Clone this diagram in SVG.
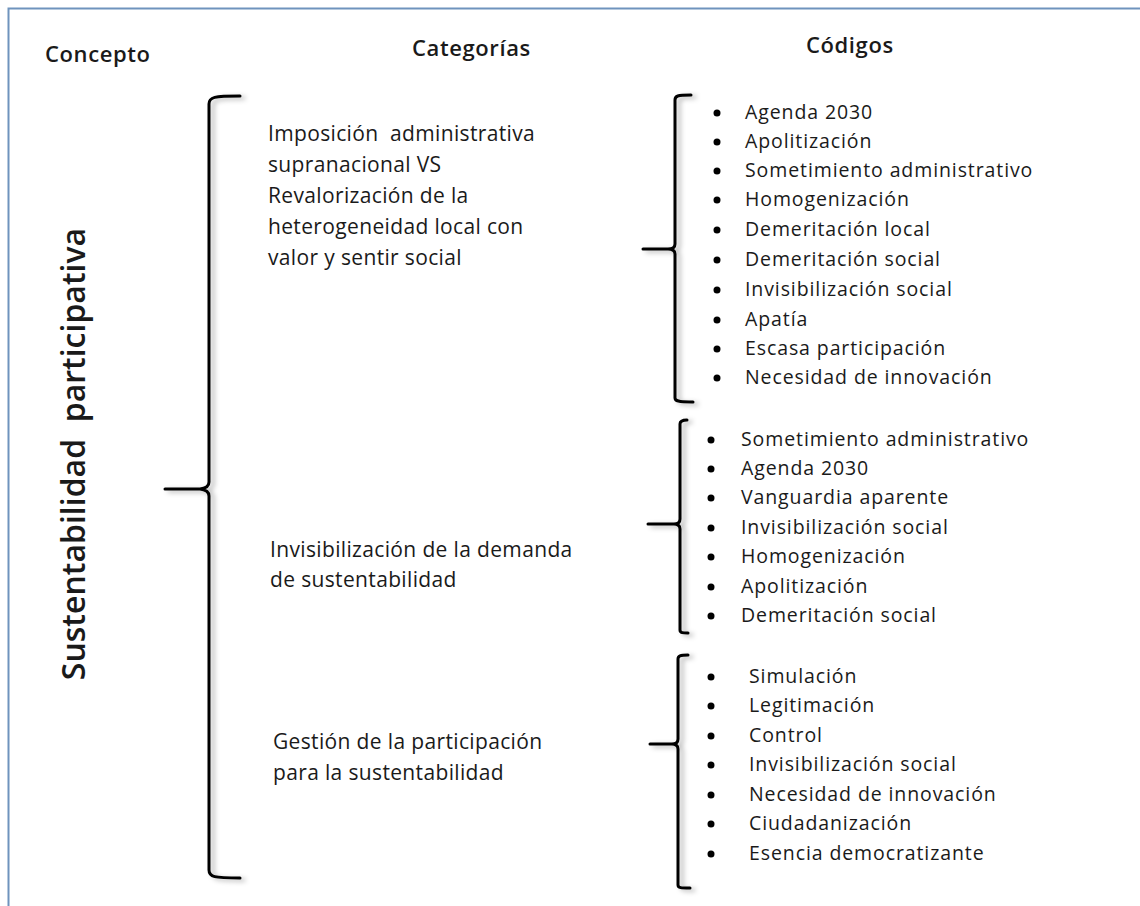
<svg xmlns="http://www.w3.org/2000/svg" width="1140" height="906" viewBox="0 0 1140 906">
<defs>
<filter id="sh" x="-50%" y="-5%" width="200%" height="110%">
<feDropShadow dx="4" dy="2" stdDeviation="2.5" flood-color="#000" flood-opacity="0.3"/>
</filter>
<style>
.t{font-family:"Open Sans","Noto Sans",sans-serif;fill:#1a1a1a}
.h{font-size:22px;font-weight:600;letter-spacing:0.6px}
.cat{font-size:21px;letter-spacing:0.35px}
.code{font-size:19.5px;letter-spacing:0.9px}
.br{fill:none;stroke:#000;stroke-width:3;stroke-linecap:round;stroke-linejoin:round;filter:url(#sh)}
.bul{fill:#000}
</style>
</defs>
<rect width="1140" height="906" fill="#fff"/>
<path d="M8.5,906 L8.5,8.5 L1140,8.5" fill="none" stroke="#6f93bd" stroke-width="2"/>

<g id="headers">
<text class="t h" x="45" y="62">Concepto</text>
<text class="t h" x="412" y="56">Categorías</text>
<text class="t h" x="806" y="53">Códigos</text>
</g>

<g id="concepto">
<text class="t" font-size="32" font-weight="600" xml:space="preserve" transform="translate(85,454) rotate(-90)" text-anchor="middle">Sustentabilidad  participativa</text>
</g>

<g id="connectors">
<path class="br" d="M240,96 C214,96 209,97 209,104 L209,482 Q209,488 200,489 L165,489 M200,489 Q209,490 209,496 L209,870 C209,877 214,878 240,878"/>
<path class="br" d="M691,95 C677,95 675,96 675,100 L675,244 Q675,249 668,249 L643,249 M668,249 Q675,249 675,254 L675,398 C675,401 678,402 693,402"/>
<path class="br" d="M687,420 C682,420 680,421 680,424 L680,519 Q680,524 674,524 L648,524 M674,524 Q680,524 680,529 L680,630 C680,633 683,633 688,633"/>
<path class="br" d="M688,655 C680,655 678,656 678,659 L678,739 Q678,744 672,744 L650,744 M672,744 Q678,744 678,749 L678,885 C678,888 681,888 690,888"/>
</g>

<g id="cat1">
<text class="t cat" x="268" y="141" xml:space="preserve">Imposición  administrativa</text>
<text class="t cat" x="268" y="172">supranacional VS</text>
<text class="t cat" x="268" y="203">Revalorización de la</text>
<text class="t cat" x="268" y="234">heterogeneidad local con</text>
<text class="t cat" x="268" y="265">valor y sentir social</text>
</g>
<g id="cat2">
<text class="t cat" x="270" y="557">Invisibilización de la demanda</text>
<text class="t cat" x="270" y="587">de sustentabilidad</text>
</g>
<g id="cat3">
<text class="t cat" x="273" y="749">Gestión de la participación</text>
<text class="t cat" x="273" y="780">para la sustentabilidad</text>
</g>

<g id="codes1">
<circle class="bul" cx="717" cy="113" r="3.5"/><text class="t code" x="745" y="119">Agenda 2030</text>
<circle class="bul" cx="717" cy="142" r="3.5"/><text class="t code" x="745" y="148">Apolitización</text>
<circle class="bul" cx="717" cy="171" r="3.5"/><text class="t code" x="745" y="177">Sometimiento administrativo</text>
<circle class="bul" cx="717" cy="200" r="3.5"/><text class="t code" x="745" y="206">Homogenización</text>
<circle class="bul" cx="717" cy="230" r="3.5"/><text class="t code" x="745" y="236">Demeritación local</text>
<circle class="bul" cx="717" cy="260" r="3.5"/><text class="t code" x="745" y="266">Demeritación social</text>
<circle class="bul" cx="717" cy="290" r="3.5"/><text class="t code" x="745" y="296">Invisibilización social</text>
<circle class="bul" cx="717" cy="320" r="3.5"/><text class="t code" x="745" y="326">Apatía</text>
<circle class="bul" cx="717" cy="349" r="3.5"/><text class="t code" x="745" y="355">Escasa participación</text>
<circle class="bul" cx="717" cy="378" r="3.5"/><text class="t code" x="745" y="384">Necesidad de innovación</text>
</g>
<g id="codes2">
<circle class="bul" cx="711" cy="440" r="3.5"/><text class="t code" x="741" y="446">Sometimiento administrativo</text>
<circle class="bul" cx="711" cy="469" r="3.5"/><text class="t code" x="741" y="475">Agenda 2030</text>
<circle class="bul" cx="711" cy="498" r="3.5"/><text class="t code" x="741" y="504">Vanguardia aparente</text>
<circle class="bul" cx="711" cy="528" r="3.5"/><text class="t code" x="741" y="534">Invisibilización social</text>
<circle class="bul" cx="711" cy="557" r="3.5"/><text class="t code" x="741" y="563">Homogenización</text>
<circle class="bul" cx="711" cy="587" r="3.5"/><text class="t code" x="741" y="593">Apolitización</text>
<circle class="bul" cx="711" cy="616" r="3.5"/><text class="t code" x="741" y="622">Demeritación social</text>
</g>
<g id="codes3">
<circle class="bul" cx="711" cy="677" r="3.5"/><text class="t code" x="749" y="683">Simulación</text>
<circle class="bul" cx="711" cy="706" r="3.5"/><text class="t code" x="749" y="712">Legitimación</text>
<circle class="bul" cx="711" cy="736" r="3.5"/><text class="t code" x="749" y="742">Control</text>
<circle class="bul" cx="711" cy="765" r="3.5"/><text class="t code" x="749" y="771">Invisibilización social</text>
<circle class="bul" cx="711" cy="795" r="3.5"/><text class="t code" x="749" y="801">Necesidad de innovación</text>
<circle class="bul" cx="711" cy="824" r="3.5"/><text class="t code" x="749" y="830">Ciudadanización</text>
<circle class="bul" cx="711" cy="854" r="3.5"/><text class="t code" x="749" y="860">Esencia democratizante</text>
</g>
</svg>
